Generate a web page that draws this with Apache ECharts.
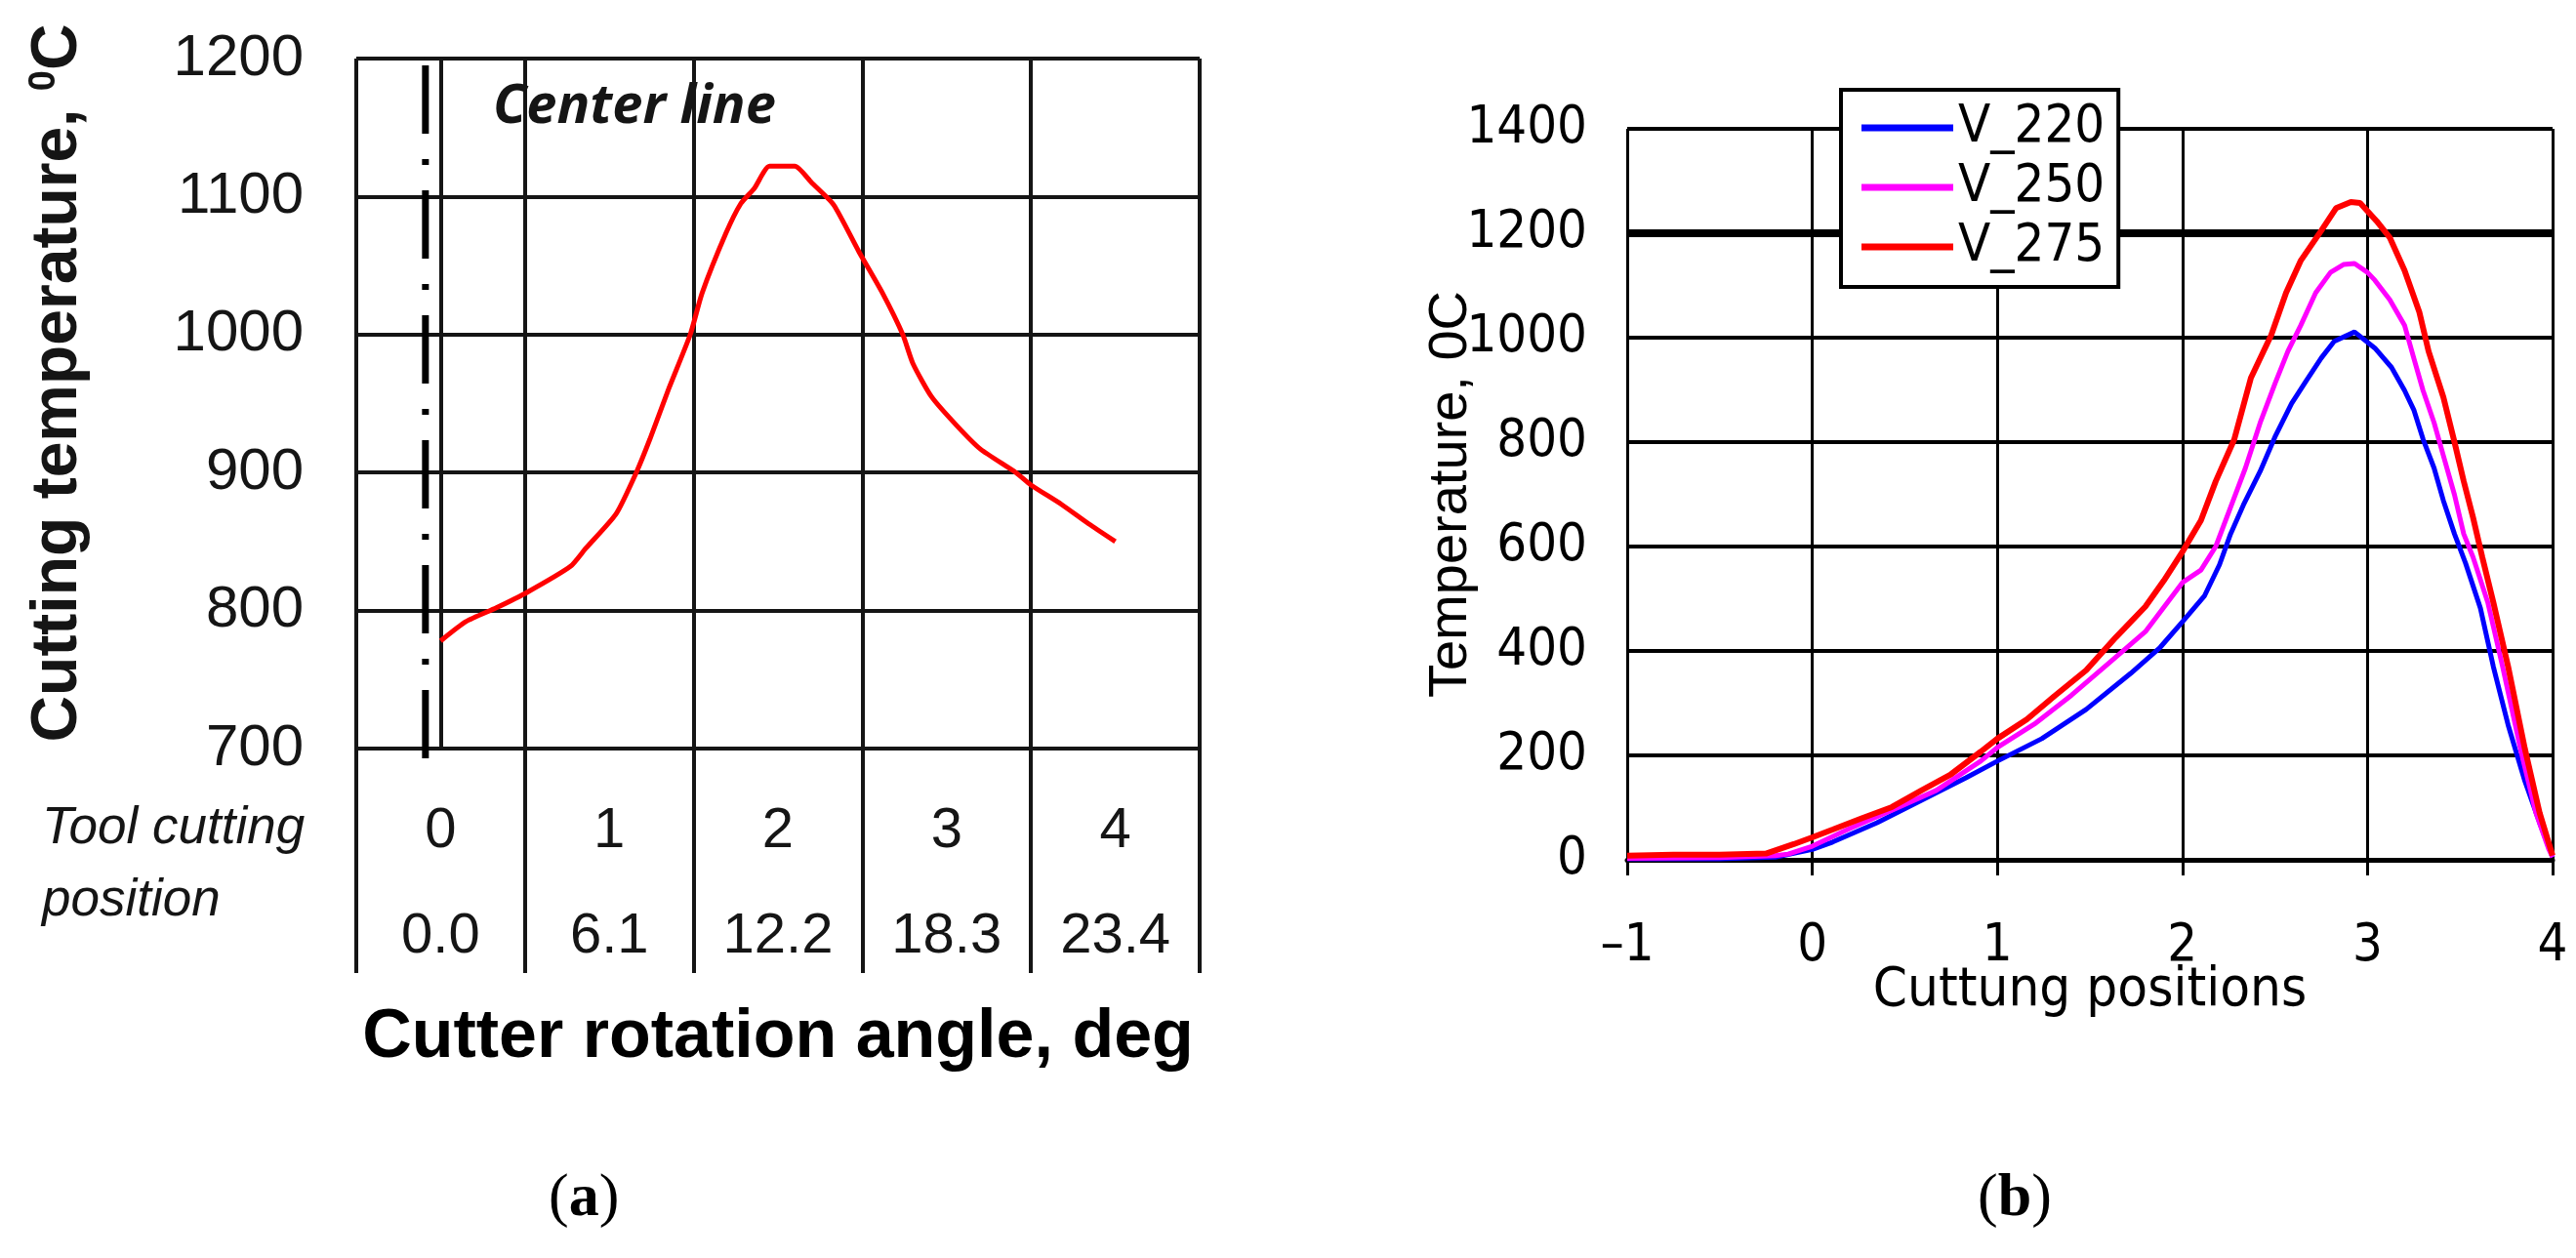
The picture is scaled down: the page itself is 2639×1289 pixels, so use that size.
<!DOCTYPE html>
<html>
<head>
<meta charset="utf-8">
<title>Cutting temperature</title>
<script src="https://cdn.jsdelivr.net/npm/echarts@6.0.0/dist/echarts.min.js"></script>
<style>
  html, body { margin: 0; padding: 0; background: #fff; }
  #chart { width: 2639px; height: 1289px; }
</style>
</head>
<body>
<div id="chart"></div>
<script>
// (a) tool cutting positions and cutter rotation angles
const positions = ['0', '1', '2', '3', '4']
const angles = ['0.0', '6.1', '12.2', '18.3', '23.4']

// (a) cutting temperature vs position
const tempA = [
  [0, 778], [0.15, 792], [0.33, 802], [0.51, 813], [0.77, 832], [0.86, 845],
  [1.04, 870], [1.16, 900], [1.24, 924], [1.35, 960], [1.48, 1000], [1.55, 1030],
  [1.69, 1073], [1.78, 1095], [1.86, 1106], [1.95, 1122], [2.1, 1122], [2.2, 1110],
  [2.33, 1094], [2.48, 1060], [2.62, 1030], [2.74, 1000], [2.8, 979], [2.91, 955],
  [3.06, 934], [3.2, 917], [3.41, 900], [3.5, 891], [3.68, 877], [3.84, 863], [4.0, 850]
]
// (a) center line (dash-dot)
const centerLine = [[-0.09, 1195], [-0.09, 675]]

// (b) series names
const speeds = ['V_220', 'V_250', 'V_275']

const v220 = [
  [-1, 2], [-0.5, 2], [-0.2, 5], [0, 20], [0.11, 34], [0.35, 71], [0.59, 114],
  [0.83, 157], [1.0, 189], [1.24, 232], [1.48, 288], [1.72, 357], [1.88, 407],
  [2.0, 456], [2.12, 506], [2.2, 565], [2.26, 624], [2.33, 680], [2.42, 744],
  [2.5, 810], [2.59, 874], [2.67, 918], [2.75, 961], [2.82, 993], [2.93, 1011],
  [3.04, 980], [3.13, 943], [3.2, 899], [3.25, 862], [3.3, 806], [3.36, 750],
  [3.41, 688], [3.47, 624], [3.53, 568], [3.61, 482], [3.68, 370], [3.76, 258],
  [3.85, 151], [3.93, 71], [3.99, 15], [4.0, 5]
]
const v250 = [
  [-1, 3], [-0.5, 4], [-0.2, 8], [-0.13, 11], [0, 26], [0.19, 58], [0.43, 95],
  [0.67, 133], [0.91, 189], [1.0, 215], [1.2, 260], [1.4, 315], [1.6, 376],
  [1.8, 437], [2.0, 531], [2.1, 555], [2.18, 600], [2.26, 675], [2.34, 750],
  [2.42, 837], [2.5, 912], [2.57, 974], [2.64, 1024], [2.72, 1086], [2.8, 1125],
  [2.87, 1140], [2.93, 1142], [3.0, 1125], [3.04, 1110], [3.12, 1073], [3.2, 1024],
  [3.25, 961], [3.3, 899], [3.36, 837], [3.41, 774], [3.47, 699], [3.52, 624],
  [3.57, 580], [3.65, 493], [3.73, 370], [3.83, 207], [3.91, 90], [3.98, 20], [4.0, 5]
]
const v275 = [
  [-1, 8], [-0.75, 10], [-0.5, 10], [-0.25, 12], [-0.1, 30], [0, 43], [0.11, 58],
  [0.27, 80], [0.43, 101], [0.59, 133], [0.75, 164], [0.91, 207], [1.0, 232],
  [1.16, 269], [1.31, 314], [1.48, 363], [1.64, 426], [1.8, 485], [1.9, 535],
  [2.0, 590], [2.1, 650], [2.18, 725], [2.28, 805], [2.37, 923], [2.48, 1005],
  [2.56, 1086], [2.64, 1148], [2.75, 1205], [2.83, 1248], [2.91, 1260], [2.96, 1258],
  [3.05, 1223], [3.12, 1192], [3.2, 1129], [3.28, 1049], [3.33, 974], [3.41, 886],
  [3.47, 800], [3.52, 725], [3.57, 656], [3.62, 580], [3.68, 493], [3.76, 370],
  [3.85, 213], [3.93, 90], [4.0, 8]
]
// (b) 1200 degree limit
const limitLine = [[-1, 1200], [4, 1200]]

const ink = '#151515'
const sans = "'Liberation Sans', Arial, sans-serif"
const narrow = "'Liberation Sans Narrow', 'Arial Narrow', 'DejaVu Sans Condensed', sans-serif"
const plain = v => String(v)

const chart = echarts.init(document.getElementById('chart'), null, { renderer: 'canvas' })

const option = {
  animation: false,
  backgroundColor: '#fff',
  title: [
    {
      text: 'Center line', left: 505, top: 82, padding: 0,
      textStyle: { fontFamily: "'Open Sans', sans-serif", fontStyle: 'italic', fontWeight: 'bold', fontSize: 56, color: ink }
    },
    {
      text: '({b|a})', left: 562, top: 1198, padding: 0,
      textStyle: {
        fontFamily: "'Liberation Serif', serif", fontSize: 62, fontWeight: 'normal', color: '#000',
        rich: { b: { fontFamily: "'Liberation Serif', serif", fontSize: 62, fontWeight: 'bold', color: '#000' } }
      }
    },
    {
      text: '({b|b})', left: 2026, top: 1198, padding: 0,
      textStyle: {
        fontFamily: "'Liberation Serif', serif", fontSize: 62, fontWeight: 'normal', color: '#000',
        rich: { b: { fontFamily: "'Liberation Serif', serif", fontSize: 62, fontWeight: 'bold', color: '#000' } }
      }
    }
  ],
  legend: {
    data: speeds,
    left: 1886,
    top: 92,
    orient: 'vertical',
    icon: 'rect',
    itemWidth: 94,
    itemHeight: 7,
    itemGap: 5,
    padding: [11, 14, 13, 21],
    backgroundColor: '#fff',
    borderColor: '#000',
    borderWidth: 4,
    borderRadius: 0,
    textStyle: { fontFamily: narrow, fontSize: 54, lineHeight: 56, color: '#000' }
  },
  grid: [
    { left: 365, top: 60, right: 1410, bottom: 522, containLabel: false, outerBoundsMode: 'none' },
    { left: 1667, top: 132, right: 24, bottom: 408, containLabel: false, outerBoundsMode: 'none' }
  ],
  xAxis: [
    {
      // table of positions / angles under chart (a)
      gridIndex: 0,
      type: 'category',
      data: positions,
      position: 'bottom',
      boundaryGap: true,
      axisLine: { show: true, lineStyle: { color: ink, width: 4 } },
      axisTick: { show: true, interval: 0, length: 230, lineStyle: { color: ink, width: 4 } },
      axisLabel: {
        interval: 0,
        margin: 31,
        formatter: (val, idx) => '{p|' + val + '}\n{p|' + angles[idx] + '}',
        rich: { p: { fontFamily: sans, fontSize: 58, lineHeight: 108, color: ink } }
      },
      splitLine: { show: true, interval: 0, lineStyle: { color: ink, width: 4 } },
      name: 'Tool cutting\nposition',
      nameLocation: 'start',
      nameGap: 322,
      nameMoveOverlap: false,
      nameTextStyle: {
        fontFamily: sans, fontStyle: 'italic', fontSize: 53, lineHeight: 74, color: ink,
        align: 'left', verticalAlign: 'top', padding: [45, 0, 0, 0]
      }
    },
    {
      gridIndex: 0,
      type: 'value',
      min: -0.5,
      max: 4.5,
      position: 'bottom',
      axisLine: { show: false },
      axisTick: { show: false },
      axisLabel: { show: false },
      splitLine: { show: false },
      name: 'Cutter rotation angle, deg',
      nameLocation: 'middle',
      nameGap: 262,
      nameMoveOverlap: false,
      nameTextStyle: { fontFamily: sans, fontWeight: 'bold', fontSize: 70, color: '#000' }
    },
    {
      gridIndex: 1,
      type: 'value',
      min: -1,
      max: 4,
      interval: 1,
      axisLine: { show: true, onZero: false, lineStyle: { color: '#000', width: 5 } },
      axisTick: { show: true, length: 16, lineStyle: { color: '#000', width: 3 } },
      axisLabel: {
        margin: 62,
        fontFamily: narrow, fontSize: 54, color: '#000',
        formatter: v => (v < 0 ? '\u2013' + (-v) : String(v))
      },
      splitLine: { show: true, lineStyle: { color: '#000', width: 3 } },
      name: 'Cuttung positions',
      nameLocation: 'middle',
      nameGap: 106,
      nameMoveOverlap: false,
      nameTextStyle: { fontFamily: narrow, fontSize: 56, color: '#000' }
    }
  ],
  yAxis: [
    {
      gridIndex: 0,
      type: 'value',
      min: 700,
      max: 1200,
      interval: 100,
      axisLine: { show: true, lineStyle: { color: ink, width: 4 } },
      axisTick: { show: true, length: 17, lineStyle: { color: ink, width: 4 } },
      axisLabel: { margin: 54, fontFamily: sans, fontSize: 60, color: ink, formatter: plain },
      splitLine: { show: true, lineStyle: { color: ink, width: 4 } },
      name: 'Cutting temperature, {s|0}C',
      nameLocation: 'middle',
      nameRotate: 90,
      nameGap: 272,
      nameMoveOverlap: false,
      nameTextStyle: {
        fontFamily: sans, fontWeight: 'bold', fontSize: 66, color: ink,
        padding: [0, 0, 0, 42],
        rich: { s: { fontFamily: sans, fontWeight: 'bold', fontSize: 38, lineHeight: 38, verticalAlign: 'top', color: ink } }
      }
    },
    {
      gridIndex: 1,
      type: 'value',
      min: 0,
      max: 1400,
      interval: 200,
      axisLine: { show: true, lineStyle: { color: '#000', width: 3 } },
      axisTick: { show: true, length: 14, lineStyle: { color: '#000', width: 3 } },
      axisLabel: { margin: 41, fontFamily: narrow, fontSize: 54, color: '#000', formatter: plain },
      splitLine: { show: true, lineStyle: { color: '#000', width: 4 } },
      name: 'Temperature, 0C',
      nameLocation: 'middle',
      nameRotate: 90,
      nameGap: 152,
      nameMoveOverlap: false,
      nameTextStyle: { fontFamily: sans, fontSize: 56, color: '#000' }
    }
  ],
  series: [
    {
      name: 'Cutting temperature',
      type: 'line',
      xAxisIndex: 1,
      yAxisIndex: 0,
      data: tempA,
      symbol: 'none',
      smooth: 0.2,
      lineStyle: { color: '#ff0000', width: 5 },
      z: 3
    },
    {
      name: 'Center line',
      type: 'line',
      xAxisIndex: 1,
      yAxisIndex: 0,
      data: centerLine,
      symbol: 'none',
      clip: false,
      lineStyle: { color: '#000', width: 7, type: [70, 26, 6, 26], cap: 'butt' },
      z: 3
    },
    {
      name: 'limit',
      type: 'line',
      xAxisIndex: 2,
      yAxisIndex: 1,
      data: limitLine,
      symbol: 'none',
      lineStyle: { color: '#000', width: 8 },
      z: 2
    },
    {
      name: speeds[0],
      type: 'line',
      xAxisIndex: 2,
      yAxisIndex: 1,
      data: v220,
      symbol: 'none',
      color: '#0000ff',
      lineStyle: { color: '#0000ff', width: 5 },
      z: 3
    },
    {
      name: speeds[1],
      type: 'line',
      xAxisIndex: 2,
      yAxisIndex: 1,
      data: v250,
      symbol: 'none',
      color: '#ff00ff',
      lineStyle: { color: '#ff00ff', width: 5 },
      z: 3
    },
    {
      name: speeds[2],
      type: 'line',
      xAxisIndex: 2,
      yAxisIndex: 1,
      data: v275,
      symbol: 'none',
      color: '#ff0000',
      lineStyle: { color: '#ff0000', width: 6 },
      z: 3
    }
  ]
}

chart.setOption(option)
</script>
</body>
</html>
